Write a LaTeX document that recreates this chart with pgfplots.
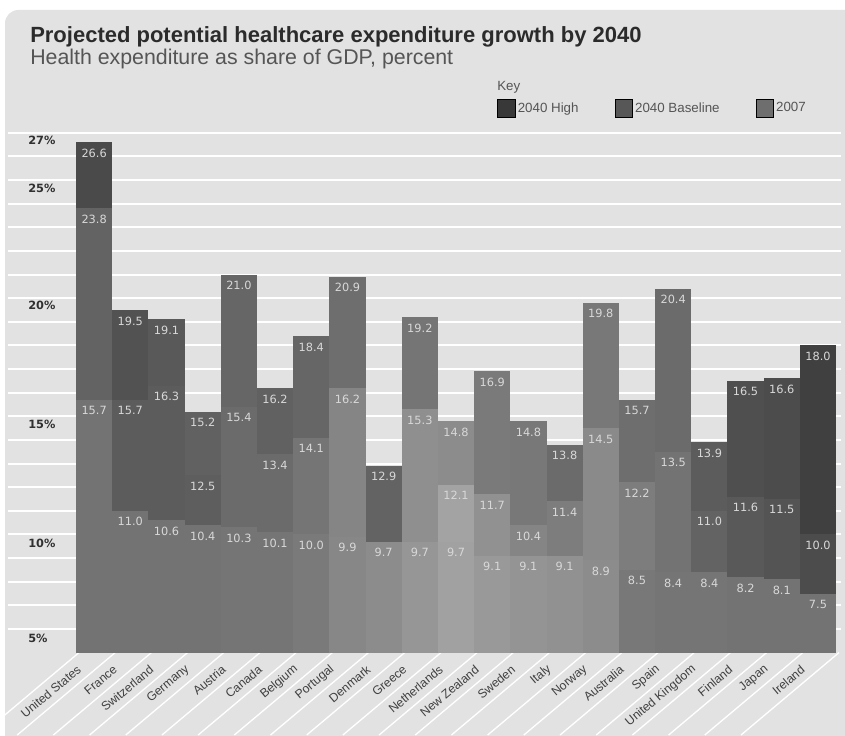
\documentclass[border=0pt]{standalone}
\usepackage{pgfplots}
\pgfplotsset{compat=1.18}
\usepackage{fontspec}
\setmainfont{Liberation Sans}
\newfontfamily\dejavu{DejaVu Sans}
\definecolor{panel}{HTML}{E2E2E2}
\definecolor{titlec}{HTML}{2B2B2B}
\definecolor{subc}{HTML}{555555}
\definecolor{valc}{HTML}{D8D8D8}
\definecolor{tickc}{HTML}{303030}
\definecolor{xlabc}{HTML}{404040}
\pgfplotsset{
  seg/.style={ybar, bar width=1, bar shift=0pt, draw=none, forget plot, fill=#1},
  lab/.style={point meta=y,
    nodes near coords={\pgfmathprintnumber[fixed,fixed zerofill,precision=1,assume math mode=true]{\pgfplotspointmeta}},
    nodes near coords align={center},
    every node near coord/.append style={yshift=-8.2pt, font=\dejavu\fontsize{8.5}{9}\selectfont, text=valc, inner sep=0pt}},
}
\begin{document}
\begin{tikzpicture}[x=0.75pt,y=0.75pt]
\path[use as bounding box] (0,0) rectangle (845,735);
\fill[panel, rounded corners=10pt] (5,-20) rectangle (870,725);
\node[anchor=base west, inner sep=0pt, font=\bfseries\fontsize{16.5}{18}\selectfont, text=titlec] at (30,692) {Projected potential healthcare expenditure growth by 2040};
\node[anchor=base west, inner sep=0pt, font=\fontsize{16}{18}\selectfont, text=subc] at (30,670) {Health expenditure as share of GDP, percent};
\node[anchor=west, inner sep=0pt, font=\fontsize{10}{12}\selectfont, text=subc] at (497,648) {Key};
\foreach \i in {0,...,21} \draw[white, line width=1pt] ({79+\i*36.19},82.4) -- ++(-98,-82.4);
\begin{axis}[
  at={(6pt,61.8pt)}, anchor=south west,
  scale only axis, width=625.1pt, height=392.55pt,
  xmin=-2.38, xmax=20.65, ymin=5, ymax=27.15,
  axis line style={draw=none},
  tick style={draw=none},
  major tick length=0pt, minor tick length=0pt,
  ytick={5.62,9.64,14.67,19.69,24.66,26.69},
  yticklabels={5\%,10\%,15\%,20\%,25\%,27\%},
  yticklabel style={anchor=west, xshift=15pt, inner sep=0pt, font=\dejavu\bfseries\fontsize{8.5}{10}\selectfont, text=tickc},
  minor ytick={6,7,...,27},
  yminorgrids=true,
  minor grid style={white, line width=1.5pt},
  xtick={0,...,20},
  xticklabels={United States,France,Switzerland,Germany,Austria,Canada,Belgium,Portugal,Denmark,Greece,Netherlands,New Zealand,Sweden,Italy,Norway,Australia,Spain,United Kingdom,Finland,Japan,Ireland},
  xticklabel style={rotate=40, anchor=east, xshift=-12.5pt, yshift=-1.5pt, font=\fontsize{9.2}{10}\selectfont, text=xlabc},
  legend image code/.code={\fill[#1] (0pt,-6.5pt) rectangle (13pt,6.5pt);},
  legend style={at={(0.5867,1.0577)}, anchor=north west, draw=none, fill=none, inner sep=0pt,
    legend columns=3, font=\fontsize{10}{12}\selectfont, text=subc,
    /tikz/every even column/.append style={column sep=25pt}},
  legend cell align=left,
]
\addlegendimage{fill=black!78}\addlegendentry{2040 High}
\addlegendimage{fill=black!66}\addlegendentry{2040 Baseline}
\addlegendimage{fill=black!57}\addlegendentry{2007}
% United States
\addplot[seg=black!71, lab] coordinates {(0,26.6)};
\addplot[seg=black!61, lab] coordinates {(0,23.8)};
\addplot[seg=black!55, lab] coordinates {(0,15.7)};
% France
\addplot[seg=black!68, lab] coordinates {(1,19.5)};
\addplot[seg=black!64, lab] coordinates {(1,15.7)};
\addplot[seg=black!55, lab] coordinates {(1,11.0)};
% Switzerland
\addplot[seg=black!65, lab] coordinates {(2,19.1)};
\addplot[seg=black!64, lab] coordinates {(2,16.3)};
\addplot[seg=black!55, lab] coordinates {(2,10.6)};
% Germany
\addplot[seg=black!62, lab] coordinates {(3,15.2)};
\addplot[seg=black!63, lab] coordinates {(3,12.5)};
\addplot[seg=black!55, lab] coordinates {(3,10.4)};
% Austria
\addplot[seg=black!60, lab] coordinates {(4,21.0)};
\addplot[seg=black!58, lab] coordinates {(4,15.4)};
\addplot[seg=black!54, lab] coordinates {(4,10.3)};
% Canada
\addplot[seg=black!62, lab] coordinates {(5,16.2)};
\addplot[seg=black!58, lab] coordinates {(5,13.4)};
\addplot[seg=black!54, lab] coordinates {(5,10.1)};
% Belgium
\addplot[seg=black!60, lab] coordinates {(6,18.4)};
\addplot[seg=black!54, lab] coordinates {(6,14.1)};
\addplot[seg=black!52, lab] coordinates {(6,10.0)};
% Portugal
\addplot[seg=black!57, lab] coordinates {(7,20.9)};
\addplot[seg=black!48, lab] coordinates {(7,16.2)};
\addplot[seg=black!47, lab] coordinates {(7,9.9)};
% Denmark
\addplot[seg=black!61, lab] coordinates {(8,12.9)};
\addplot[seg=black!45, lab] coordinates {(8,9.7)};
% Greece
\addplot[seg=black!54, lab] coordinates {(9,19.2)};
\addplot[seg=black!44, lab] coordinates {(9,15.3)};
\addplot[seg=black!41, lab] coordinates {(9,9.7)};
% Netherlands
\addplot[seg=black!45, lab] coordinates {(10,14.8)};
\addplot[seg=black!36, lab] coordinates {(10,12.1)};
\addplot[seg=black!37, lab] coordinates {(10,9.7)};
% New Zealand
\addplot[seg=black!52, lab] coordinates {(11,16.9)};
\addplot[seg=black!43, lab] coordinates {(11,11.7)};
\addplot[seg=black!40, lab] coordinates {(11,9.1)};
% Sweden
\addplot[seg=black!53, lab] coordinates {(12,14.8)};
\addplot[seg=black!48, lab] coordinates {(12,10.4)};
\addplot[seg=black!42, lab] coordinates {(12,9.1)};
% Italy
\addplot[seg=black!58, lab] coordinates {(13,13.8)};
\addplot[seg=black!51, lab] coordinates {(13,11.4)};
\addplot[seg=black!43, lab] coordinates {(13,9.1)};
% Norway
\addplot[seg=black!53, lab] coordinates {(14,19.8)};
\addplot[seg=black!46, lab] coordinates {(14,14.5)};
\addplot[seg=black!45, lab] coordinates {(14,8.9)};
% Australia
\addplot[seg=black!57, lab] coordinates {(15,15.7)};
\addplot[seg=black!51, lab] coordinates {(15,12.2)};
\addplot[seg=black!53, lab] coordinates {(15,8.5)};
% Spain
\addplot[seg=black!58, lab] coordinates {(16,20.4)};
\addplot[seg=black!55, lab] coordinates {(16,13.5)};
\addplot[seg=black!54, lab] coordinates {(16,8.4)};
% United Kingdom
\addplot[seg=black!64, lab] coordinates {(17,13.9)};
\addplot[seg=black!61, lab] coordinates {(17,11.0)};
\addplot[seg=black!54, lab] coordinates {(17,8.4)};
% Finland
\addplot[seg=black!69, lab] coordinates {(18,16.5)};
\addplot[seg=black!65, lab] coordinates {(18,11.6)};
\addplot[seg=black!55, lab] coordinates {(18,8.2)};
% Japan
\addplot[seg=black!70, lab] coordinates {(19,16.6)};
\addplot[seg=black!67, lab] coordinates {(19,11.5)};
\addplot[seg=black!55, lab] coordinates {(19,8.1)};
% Ireland
\addplot[seg=black!75, lab] coordinates {(20,18.0)};
\addplot[seg=black!70, lab] coordinates {(20,10.0)};
\addplot[seg=black!55, lab] coordinates {(20,7.5)};
\end{axis}
\end{tikzpicture}
\end{document}
